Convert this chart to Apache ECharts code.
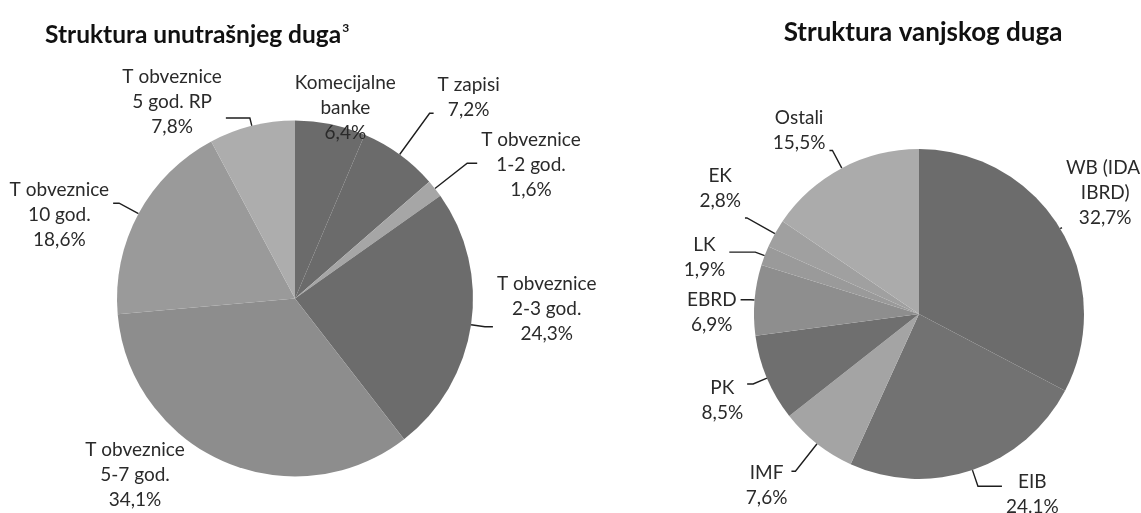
<!DOCTYPE html>
<html><head><meta charset="utf-8">
<script src="https://cdn.jsdelivr.net/npm/echarts@6/dist/echarts.min.js"></script>
<style>html,body{margin:0;padding:0;background:#fff}#c{width:1141px;height:513px}</style>
</head><body><div id="c"></div>
<script>
// ---- data: internal debt structure ----
const innerNames = ['Komecijalne\nbanke', 'T zapisi', 'T obveznice\n1-2 god.', 'T obveznice\n2-3 god.', 'T obveznice\n5-7 god.', 'T obveznice\n10 god.', 'T obveznice\n5 god. RP'];
const innerValues = [6.4, 7.2, 1.6, 24.3, 34.1, 18.6, 7.8];
const innerPct = ['6,4%', '7,2%', '1,6%', '24,3%', '34,1%', '18,6%', '7,8%'];
// ---- data: external debt structure ----
const outerNames = ['WB (IDA,\nIBRD)', 'EIB', 'IMF', 'PK', 'EBRD', 'LK', 'EK', 'Ostali'];
const outerValues = [32.7, 24.1, 7.6, 8.5, 6.9, 1.9, 2.8, 15.5];
const outerPct = ['32,7%', '24.1%', '7,6%', '8,5%', '6,9%', '1,9%', '2,8%', '15,5%'];

// ---- styles ----
const innerColors = ['#6b6b6b', '#6b6b6b', '#a6a6a6', '#6c6c6c', '#8d8d8d', '#9a9a9a', '#adadad'];
const outerColors = ['#6c6c6c', '#727272', '#a4a4a4', '#6f6f6f', '#8e8e8e', '#9a9a9a', '#a0a0a0', '#ababab'];
// leader line [length, length2] and label padding [top, right, bottom, left]
const innerLine = [[0, 0], [51, 4], [41, 10], [14, 8], [0, 0], [22, 6], [8, 24]];
const innerPad = [[0, 0, 0, 0], [0, 0, 31, 0], [4, 0, 0, 0], [0, 0, 36, 0], [27, 35, 0, 0], [23, 0, 0, 0], [0, 0, 32, 0]];
const outerLine = [[2, 0], [17, 24], [35, 4], [15, 6], [4, 10], [10, 26], [32, 2], [20, 3]];
const outerPad = [[0, 0, 69, 0], [16, 0, 0, 0], [28, 0, 0, 0], [32, 0, 0, 0], [26, 0, 0, 0], [11, 0, 0, 0], [0, 0, 59, 0], [0, 0, 40, 0]];

const FONT = 'Lato';
const chart = echarts.init(document.getElementById('c'));

function mk(names, values, pct, colors, lines, pads) {
  return names.map((n, i) => ({
    name: n, value: values[i], pct: pct[i],
    itemStyle: { color: colors[i] },
    label: { padding: pads[i] },
    labelLine: { length: lines[i][0], length2: lines[i][1] }
  }));
}
const labelStyle = {
  show: true,
  distanceToLabelLine: 4,
  formatter: p => (p.name + '\n' + p.data.pct).split('\n').map(s => '{t|' + s + '}').join('\n'),
  rich: { t: { align: 'center', color: '#2a2a2a', fontFamily: FONT, fontSize: 19, lineHeight: 25 } }
};
const lineStyle = { show: true, smooth: false, lineStyle: { color: '#1e1e1e', width: 1.4 } };

const innerData = mk(innerNames, innerValues, innerPct, innerColors, innerLine, innerPad);
innerData[0].label.position = 'inside';
innerData[0].labelLine.show = false;
innerData[4].labelLine.show = false;

chart.setOption({
  animation: false,
  title: [
    { text: '{a|Struktura unutrašnjeg duga}{b|3}', left: 40, top: 17,
      textStyle: { rich: { a: { fontFamily: FONT, fontWeight: 'bold', fontSize: 24.5, color: '#111' },
                           b: { fontFamily: FONT, fontWeight: 'bold', fontSize: 12, color: '#111', padding: [0, 0, 14, 1] } } } },
    { text: 'Struktura vanjskog duga', left: 918, top: 15, textAlign: 'center',
      textStyle: { fontFamily: FONT, fontWeight: 'bold', fontSize: 26, color: '#111' } }
  ],
  series: [
    { type: 'pie', center: [295, 298.5], radius: 178, startAngle: 90, clockwise: true,
      avoidLabelOverlap: false, itemStyle: { borderWidth: 0 },
      data: innerData, label: labelStyle, labelLine: lineStyle,
      labelLayout: p => (p.dataIndex === 0 ? { dx: 32, dy: -100 } : undefined) },
    { type: 'pie', center: [919, 314], radius: 165, startAngle: 90, clockwise: true,
      avoidLabelOverlap: false, itemStyle: { borderWidth: 0 },
      data: mk(outerNames, outerValues, outerPct, outerColors, outerLine, outerPad),
      label: labelStyle, labelLine: lineStyle }
  ]
});
</script></body></html>
